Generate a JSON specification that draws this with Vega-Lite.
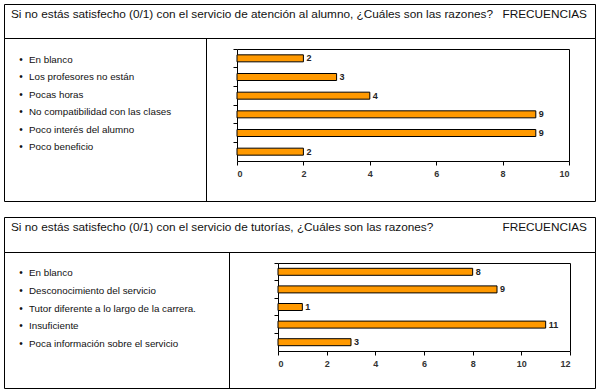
{
  "$schema": "https://vega.github.io/schema/vega-lite/v6.json",
  "padding": {"left": 3, "top": 3, "right": 2, "bottom": 2},
  "background": "white",
  "config": {
    "font": "Liberation Sans",
    "view": {"stroke": "#000", "strokeWidth": 1},
    "axis": {"grid": false, "domainColor": "#000", "tickColor": "#000", "labelFont": "Liberation Sans", "minExtent": 0, "maxExtent": 0}
  },
  "datasets": {
    "p1": [
      {"cat": "En blanco", "n": 2, "ord": 1},
      {"cat": "Los profesores no están", "n": 3, "ord": 2},
      {"cat": "Pocas horas", "n": 4, "ord": 3},
      {"cat": "No compatibilidad con las clases", "n": 9, "ord": 4},
      {"cat": "Poco interés del alumno", "n": 9, "ord": 5},
      {"cat": "Poco beneficio", "n": 2, "ord": 6}
    ],
    "p2": [
      {"cat": "En blanco", "n": 8, "ord": 1},
      {"cat": "Desconocimiento del servicio", "n": 9, "ord": 2},
      {"cat": "Tutor diferente a lo largo de la carrera.", "n": 1, "ord": 3},
      {"cat": "Insuficiente", "n": 11, "ord": 4},
      {"cat": "Poca información sobre el servicio", "n": 3, "ord": 5}
    ]
  },
  "spacing": 0,
  "bounds": "flush",
  "vconcat": [
    {
      "width": 591,
      "height": 34,
      "data": {"values": [
        {"t": "Si no estás satisfecho (0/1) con el servicio de atención al alumno, ¿Cuáles son las razones?", "s": "L"},
        {"t": "FRECUENCIAS", "s": "R"}
      ]},
      "layer": [
        {
          "transform": [{"filter": "datum.s == 'L'"}],
          "mark": {"type": "text", "align": "left", "baseline": "middle", "fontSize": 11.8, "color": "#111", "dy": -7},
          "encoding": {
            "x": {"datum": 0, "type": "quantitative", "scale": {"domain": [0, 1], "range": [7, 583]}, "axis": null},
            "text": {"field": "t"}
          }
        },
        {
          "transform": [{"filter": "datum.s == 'R'"}],
          "mark": {"type": "text", "align": "right", "baseline": "middle", "fontSize": 11.8, "color": "#111", "dy": -7},
          "encoding": {
            "x": {"datum": 1, "type": "quantitative", "axis": null},
            "text": {"field": "t"}
          }
        }
      ]
    },
    {
      "width": 591,
      "height": 163,
      "data": {"name": "p1"},
      "layer": [
        {
          "mark": {"type": "text", "text": "", "opacity": 0},
          "encoding": {
            "y": {"field": "ord", "type": "quantitative", "scale": {"domain": [0, 10], "range": [0, 163]},
              "axis": {"orient": "left", "offset": -202, "ticks": false, "labels": false, "title": null, "domain": true}}
          }
        },
        {
          "mark": {"type": "text", "text": "•", "align": "center", "baseline": "middle", "fontSize": 10, "color": "#111"},
          "encoding": {
            "x": {"datum": 0, "type": "quantitative", "scale": {"domain": [0, 1], "range": [17, 200]}, "axis": null},
            "y": {"field": "cat", "type": "nominal", "sort": {"field": "ord"}, "scale": {"type": "point", "range": [22, 109], "padding": 0}, "axis": null}
          }
        },
        {
          "mark": {"type": "text", "align": "left", "baseline": "middle", "fontSize": 9.8, "color": "#111"},
          "encoding": {
            "x": {"datum": 0, "type": "quantitative", "scale": {"domain": [0, 1], "range": [25, 200]}, "axis": null},
            "y": {"field": "cat", "type": "nominal", "sort": {"field": "ord"}, "scale": {"type": "point", "range": [22, 109], "padding": 0}, "axis": null},
            "text": {"field": "cat"}
          }
        },
        {
          "mark": {"type": "bar", "size": 7, "fill": "#FF9900", "stroke": "#000", "strokeWidth": 1},
          "encoding": {
            "x": {"field": "n", "type": "quantitative", "scale": {"domain": [0, 10], "range": [233, 565], "nice": false},
              "axis": {"orient": "bottom", "offset": -40, "values": [0, 2, 4, 6, 8, 10], "title": null, "tickSize": 4, "labelFontWeight": "bold", "labelFontSize": 9, "labelColor": "#333", "labelPadding": 4}},
            "y": {"field": "cat", "type": "nominal", "sort": {"field": "ord"}, "scale": {"type": "band", "range": [11, 123], "paddingInner": 0, "paddingOuter": 0},
              "axis": {"orient": "left", "offset": -233, "title": null, "labels": false, "tickSize": 4, "bandPosition": 0}}
          }
        },
        {
          "mark": {"type": "text", "align": "left", "baseline": "middle", "dx": 3, "fontWeight": "bold", "fontSize": 9, "color": "#222"},
          "encoding": {
            "x": {"field": "n", "type": "quantitative", "scale": {"domain": [0, 10], "range": [233, 565], "nice": false},
              "axis": {"orient": "top", "offset": -11, "ticks": false, "labels": false, "title": null}},
            "y": {"field": "cat", "type": "nominal", "sort": {"field": "ord"}, "scale": {"type": "band", "range": [11, 123], "paddingInner": 0, "paddingOuter": 0},
              "axis": {"orient": "right", "offset": -26, "ticks": false, "labels": false, "title": null}},
            "text": {"field": "n"}
          }
        }
      ],
      "resolve": {"scale": {"x": "independent", "y": "independent"}, "axis": {"x": "independent", "y": "independent"}}
    },
    {
      "width": 591,
      "height": 16,
      "view": {"stroke": null},
      "data": {"values": [{"t": ""}]},
      "mark": {"type": "text"},
      "encoding": {"text": {"field": "t"}}
    },
    {
      "width": 591,
      "height": 35,
      "data": {"values": [
        {"t": "Si no estás satisfecho (0/1) con el servicio de tutorías, ¿Cuáles son las razones?", "s": "L"},
        {"t": "FRECUENCIAS", "s": "R"}
      ]},
      "layer": [
        {
          "transform": [{"filter": "datum.s == 'L'"}],
          "mark": {"type": "text", "align": "left", "baseline": "middle", "fontSize": 11.8, "color": "#111", "dy": -8},
          "encoding": {
            "x": {"datum": 0, "type": "quantitative", "scale": {"domain": [0, 1], "range": [7, 583]}, "axis": null},
            "text": {"field": "t"}
          }
        },
        {
          "transform": [{"filter": "datum.s == 'R'"}],
          "mark": {"type": "text", "align": "right", "baseline": "middle", "fontSize": 11.8, "color": "#111", "dy": -8},
          "encoding": {
            "x": {"datum": 1, "type": "quantitative", "axis": null},
            "text": {"field": "t"}
          }
        }
      ]
    },
    {
      "width": 591,
      "height": 136,
      "data": {"name": "p2"},
      "layer": [
        {
          "mark": {"type": "text", "text": "", "opacity": 0},
          "encoding": {
            "y": {"field": "ord", "type": "quantitative", "scale": {"domain": [0, 10], "range": [0, 136]},
              "axis": {"orient": "left", "offset": -225, "ticks": false, "labels": false, "title": null, "domain": true}}
          }
        },
        {
          "mark": {"type": "text", "text": "•", "align": "center", "baseline": "middle", "fontSize": 10, "color": "#111"},
          "encoding": {
            "x": {"datum": 0, "type": "quantitative", "scale": {"domain": [0, 1], "range": [17, 220]}, "axis": null},
            "y": {"field": "cat", "type": "nominal", "sort": {"field": "ord"}, "scale": {"type": "point", "range": [21, 92], "padding": 0}, "axis": null}
          }
        },
        {
          "mark": {"type": "text", "align": "left", "baseline": "middle", "fontSize": 9.8, "color": "#111"},
          "encoding": {
            "x": {"datum": 0, "type": "quantitative", "scale": {"domain": [0, 1], "range": [25, 220]}, "axis": null},
            "y": {"field": "cat", "type": "nominal", "sort": {"field": "ord"}, "scale": {"type": "point", "range": [21, 92], "padding": 0}, "axis": null},
            "text": {"field": "cat"}
          }
        },
        {
          "mark": {"type": "bar", "size": 7, "fill": "#FF9900", "stroke": "#000", "strokeWidth": 1},
          "encoding": {
            "x": {"field": "n", "type": "quantitative", "scale": {"domain": [0, 12], "range": [274, 566], "nice": false},
              "axis": {"orient": "bottom", "offset": -37, "values": [0, 2, 4, 6, 8, 10, 12], "title": null, "tickSize": 4, "labelFontWeight": "bold", "labelFontSize": 9, "labelColor": "#333", "labelPadding": 4}},
            "y": {"field": "cat", "type": "nominal", "sort": {"field": "ord"}, "scale": {"type": "band", "range": [11, 99], "paddingInner": 0, "paddingOuter": 0},
              "axis": {"orient": "left", "offset": -274, "title": null, "labels": false, "tickSize": 4, "bandPosition": 0}}
          }
        },
        {
          "mark": {"type": "text", "align": "left", "baseline": "middle", "dx": 3, "fontWeight": "bold", "fontSize": 9, "color": "#222"},
          "encoding": {
            "x": {"field": "n", "type": "quantitative", "scale": {"domain": [0, 12], "range": [274, 566], "nice": false},
              "axis": {"orient": "top", "offset": -11, "ticks": false, "labels": false, "title": null}},
            "y": {"field": "cat", "type": "nominal", "sort": {"field": "ord"}, "scale": {"type": "band", "range": [11, 99], "paddingInner": 0, "paddingOuter": 0},
              "axis": {"orient": "right", "offset": -25, "ticks": false, "labels": false, "title": null}},
            "text": {"field": "n"}
          }
        }
      ],
      "resolve": {"scale": {"x": "independent", "y": "independent"}, "axis": {"x": "independent", "y": "independent"}}
    }
  ]
}
